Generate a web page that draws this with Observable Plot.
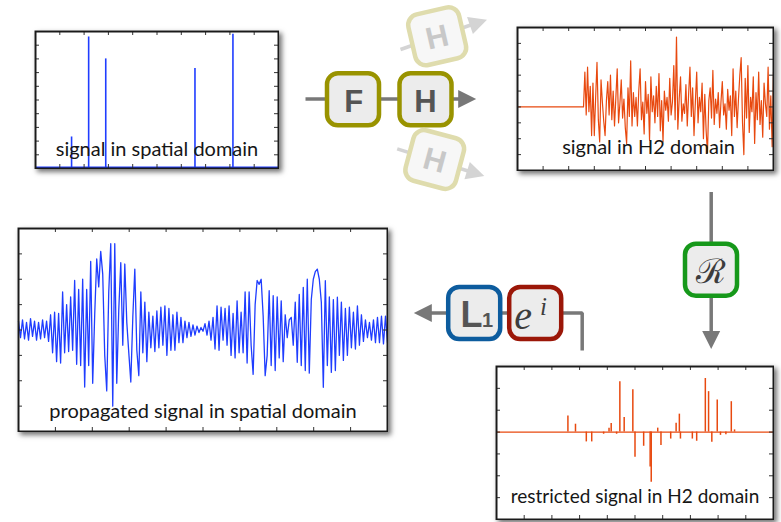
<!DOCTYPE html>
<html><head><meta charset="utf-8">
<script src="https://cdn.jsdelivr.net/npm/d3@7"></script>
<script src="https://cdn.jsdelivr.net/npm/@observablehq/plot@0.6"></script>
<style>
body{margin:0;background:#fff;}
#stage{position:relative;width:781px;height:522px;overflow:hidden;background:#fff;}
.panel{position:absolute;background:#fff;box-shadow:3px 3px 5px rgba(0,0,0,0.55);}
.panel svg,#overlay svg{display:block;}
#overlay{position:absolute;left:0;top:0;}
</style></head><body><div id="stage"></div>
<script>
// ---------- DATA ----------
// panel 1: sparse signal in spatial domain
const spatialSpikeIdx = [19, 28, 37, 84, 104];
const spatialSpikeVal = [0.23, 0.96, 0.80, 0.73, 0.98];
const spatialYTicks = [0.1,0.2,0.3,0.4,0.5,0.6,0.7,0.8,0.9];

// panel 2: signal in H2 domain (flat zero until h2Start, then noisy)
const h2Start = 49;
const h2Noise = [
 0, 2.2, -0.5, 2.5, -0.3, 1.3, -1.8, 1.5, -1.8, 0.6,
 2.8, -0.8, -2.2, 1.7, 0.3, -0.9, -1.8, 0.4, 1.6, -0.5,
 2.0, -0.8, 1.0, -1.2, 0.6, 2.4, -1.0, 0.2, 1.7, -0.7,
 0.5, -1.3, -2.3, 1.2, -0.6, 2.9, -1.2, 0.9, -0.6, 0.6,
 -1.2, 1.0, 2.4, -0.8, 0.3, -1.7, 1.6, -0.4, 0.8, -2.1,
 1.9, -0.3, 0.7, -1.0, 1.3, -0.6, 2.1, -1.5, 0.4, -2.2,
 1.0, -0.2, 0.6, -0.9, 1.8, -0.5, 0.3, 2.6, -0.8, 4.4,
 -1.4, 0.5, 1.9, -0.9, 0.2, -0.4, 1.4, -1.2, 0.8, 2.5,
 -0.6, 1.2, -1.8, 0.3, 2.2, -1.0, 0.6, -0.3, 1.5, -2.0,
 0.8, -1.5, -2.9, 0.4, 1.2, -0.7, 2.3, -1.1, 0.5, -0.4,
 0.9, -1.3, 0.3, 1.6, -0.5, 0.2, -1.4, 1.1, -0.2, 0.7,
 -1.8, 2.4, -0.6, 1.0, -1.3, 0.5, 2.0, 3.1, -1.0, -3.0,
 1.8, -0.7, 2.6, -1.6, 0.6, -0.3, 1.9, -2.3, 0.9, -0.8,
 2.2, -1.1, 0.4, -1.9, 1.5, 0.2, -0.6, 2.5, -1.4, 0.7, -2.5, 2.2
];
const h2YTicks = [-3,-2,-1,0,1,2,3,4];

// panel 3: propagated signal in spatial domain
const propagated = [
 0.35,-0.3,0.4,-0.35,0.3,-0.4,0.45,-0.25,0.35,-0.4,0.3,-0.35,0.4,-0.3,0.35,-0.45,
 0.6,-0.9,0.7,-1.25,0.65,-1.3,1.5,-0.9,1.0,-0.85,1.3,-0.8,1.95,-1.35,1.6,-1.4,
 2.0,-2.25,1.6,-1.4,2.7,-2.1,0.6,2.8,1.7,3.1,2.2,-1.0,-2.4,1.5,3.4,-3.0,3.4,-2.1,
 0.8,2.65,-0.6,2.6,0.3,-0.9,-2.05,0.5,2.4,-0.8,-1.8,1.5,-0.9,1.1,-1.25,0.7,-0.7,
 0.55,-0.85,0.75,-0.7,0.9,-0.6,0.95,-1.0,0.85,-0.8,0.6,-0.8,0.7,-0.5,0.5,-0.5,
 0.35,-0.3,0.3,-0.25,0.2,-0.2,0.15,-0.1,0.1,-0.05,0.25,-0.2,0.35,-0.4,0.5,-0.75,
 0.95,-0.8,0.9,-0.4,0.85,-0.6,0.95,-1.0,0.65,-1.1,1.15,-0.9,0.7,-0.9,1.5,-1.3,1.5,
 -0.6,-1.75,1.0,1.95,1.8,2.0,0.55,-1.8,-1.0,1.55,-1.4,1.35,-1.6,1.3,-1.1,1.15,-1.25,
 0.6,-0.3,0.4,0.5,-0.6,1.1,-1.27,1.4,-1.4,1.68,-1.6,2.0,-1.7,1.2,2.0,2.3,2.4,2.0,1.1,
 -2.26,1.94,-1.4,1.3,-1.67,1.2,-1.6,1.29,-1.0,1.1,-1.2,0.85,-1.0,0.9,-0.7,0.7,-0.75,
 0.95,-0.6,0.6,-0.45,0.4,-0.3,0.3,-0.4,0.4,-0.5,0.5,-0.5,0.55,-0.55,0.55,-0.5
];
const propYTicks = [-3,-2,-1,0,1,2,3];

// panel 4: restricted signal in H2 domain
const restrictedIdx = [66,73,83,88,99,104,106,111,114,118,126,128,136,142,143,149,152,161,166,169,170,181,185,193,196,199,204,207,212,217,220];
const restrictedVal = [0.74,0.36,-0.45,-0.45,-0.1,0.18,0.39,-0.1,2.3,0.67,1.94,-1.15,-0.65,-1.6,-2.3,0.18,-0.62,-0.32,0.4,0.82,-0.32,-0.32,-0.42,2.45,1.85,-0.47,1.47,-0.15,-0.12,1.39,0.1];
const restrictedYTicks = [-3,-2,-1,0,1,2];

const panelLabels = ["signal in spatial domain", "signal in H2 domain", "propagated signal in spatial domain", "restricted signal in H2 domain"];

// diagram layout (pixel space of the 781x522 picture)
const connectorPaths = [
  {id:"forward",  tone:"main",  points:[[305,98.4],[464,98.4]]},
  {id:"restrict", tone:"main",  points:[[710.7,191.5],[710.7,338]]},
  {id:"propagate",tone:"main",  points:[[581.7,350],[581.7,312.4],[424,312.4]]},
  {id:"fadedUp",  tone:"faded", points:[[400,49],[476,22.5]]},
  {id:"fadedDown",tone:"faded", points:[[396.7,148.3],[474,172.5]]}
];
const arrowHeads = [
  {x:475.7, y:98.4,  angle:0,    tone:"main"},
  {x:710.7, y:348.5, angle:90,   tone:"main"},
  {x:413.3, y:312.4, angle:180,  tone:"main"},
  {x:486.5, y:19.2,  angle:-19,  tone:"faded"},
  {x:483.8, y:175.6, angle:17.5, tone:"faded"}
];
const operators = [
  {id:"F",     x:352.5, y:98.8,  angle:0,   tone:"olive"},
  {id:"H",     x:425,   y:98.8,  angle:0,   tone:"olive"},
  {id:"Hup",   x:436.7, y:35.8,  angle:-13, tone:"oliveFaded"},
  {id:"Hdown", x:434.2, y:159,   angle:15,  tone:"oliveFaded"},
  {id:"R",     x:710.5, y:269.2, angle:0,   tone:"green"},
  {id:"L1",    x:473.7, y:312.5, angle:0,   tone:"blue"},
  {id:"exp",   x:534.7, y:312.5, angle:0,   tone:"red"}
];
const sansGlyphs = [
  {t:"F", x:353.3, y:101.8, size:31, angle:0,   faded:false},
  {t:"H", x:425,   y:101.8, size:31, angle:0,   faded:false},
  {t:"H", x:436.7, y:37,    size:31, angle:-13, faded:true},
  {t:"H", x:434.2, y:160.2, size:31, angle:15,  faded:true},
  {t:"L", x:471,   y:315.2, size:36, angle:0,   faded:false},
  {t:"1", x:487,   y:320.3, size:20, angle:0,   faded:false}
];
const scriptGlyphs = [{t:"\u211B", x:710.8, y:271.8, size:34}];
const italicGlyphs = [
  {t:"e", x:522.5, y:315.5, size:40},
  {t:"i", x:543,   y:306,   size:25}
];

// ---------- STYLE ----------
const BLUE = "#1f3dff", ORANGE = "#e8490f";
const toneColor = {main:"#787878", faded:"#d4d4d4"};
const boxStroke = {olive:"#999300", oliveFaded:"#dfdcad", green:"#16981a", blue:"#0d5c9e", red:"#9b1708"};
const boxFill = {olive:"#ececec", oliveFaded:"#f7f7f7", green:"#ececec", blue:"#ececec", red:"#ececec"};

const stage = document.getElementById("stage");

function addPanel({left, top, w, h, xDomain, yDomain, yTicks, marks, label, labelDy, labelDx = 0, labelSize = 20}) {
  const m = 1;
  const xTicks = d3.range(1, 10).map(k => xDomain[0] + k * (xDomain[1] - xDomain[0]) / 10);
  const chart = Plot.plot({
    width: w + 2 * m, height: h + 2 * m, margin: m,
    x: {domain: xDomain, axis: null},
    y: {domain: yDomain, axis: null},
    style: {background: "transparent", fontFamily: "Lato"},
    marks: [
      ...marks,
      Plot.tickX(xTicks, {x: d => d, insetTop: h - 4, stroke: "#333"}),
      Plot.tickX(xTicks, {x: d => d, insetBottom: h - 4, stroke: "#333"}),
      Plot.tickY(yTicks, {y: d => d, insetRight: w - 4, stroke: "#333"}),
      Plot.tickY(yTicks, {y: d => d, insetLeft: w - 4, stroke: "#333"}),
      Plot.text([label], {frameAnchor: "bottom", lineAnchor: "bottom", dy: labelDy, dx: labelDx,
        fontSize: labelSize, fill: "#161616", fontFamily: "Lato"}),
      Plot.frame({stroke: "#1a1a1a", strokeWidth: 2})
    ]
  });
  const div = document.createElement("div");
  div.className = "panel";
  Object.assign(div.style, {left: (left - m) + "px", top: (top - m) + "px", width: (w + 2 * m) + "px", height: (h + 2 * m) + "px"});
  div.appendChild(chart);
  stage.appendChild(div);
}

// panel 1
const spatialRows = spatialSpikeIdx.map((i, k) => ({i, v: spatialSpikeVal[k]}));
addPanel({left: 35, top: 31, w: 243, h: 137, xDomain: [0, 128], yDomain: [0, 1], yTicks: spatialYTicks,
  label: panelLabels[0], labelDy: -13,
  marks: [
    Plot.ruleX(spatialRows, {x: "i", y1: () => 0, y2: "v", stroke: BLUE, strokeWidth: 1.6}),
    Plot.ruleY([0], {stroke: BLUE, strokeWidth: 2, dy: -1})
  ]});

// panel 2
const h2Rows = [{i: 0, v: 0}, ...h2Noise.map((v, k) => ({i: h2Start + k, v}))];
addPanel({left: 517, top: 27, w: 256, h: 143, xDomain: [0, h2Start + h2Noise.length - 1], yDomain: [-4, 5], yTicks: h2YTicks,
  label: panelLabels[1], labelDy: -17, labelDx: 3,
  marks: [Plot.line(h2Rows, {x: "i", y: "v", stroke: ORANGE, strokeWidth: 1.2})]});

// panel 3
const propRows = propagated.map((v, i) => ({i, v}));
addPanel({left: 18, top: 228, w: 369, h: 203, xDomain: [0, propagated.length - 1], yDomain: [-4, 4], yTicks: propYTicks,
  label: panelLabels[2], labelDy: -14,
  marks: [Plot.line(propRows, {x: "i", y: "v", stroke: BLUE, strokeWidth: 1.3})]});

// panel 4
const restrictedRows = restrictedIdx.map((i, k) => ({i, v: restrictedVal[k]}));
addPanel({left: 496, top: 366, w: 277, h: 153, xDomain: [0, 256], yDomain: [-4, 3], yTicks: restrictedYTicks,
  label: panelLabels[3], labelDy: -17, labelSize: 19,
  marks: [
    Plot.ruleY([0], {stroke: ORANGE, strokeWidth: 1.2}),
    Plot.ruleX(restrictedRows, {x: "i", y1: () => 0, y2: "v", stroke: ORANGE, strokeWidth: 1.5})
  ]});

// ---------- DIAGRAM OVERLAY ----------
const arrowSymbol = {draw(ctx, size) {
  const r = Math.sqrt(size / Math.PI);
  ctx.moveTo(0, 0); ctx.lineTo(-2 * r, -r); ctx.lineTo(-2 * r, r); ctx.closePath();
}};
const roundedSquare = {draw(ctx, size) {
  const s = Math.sqrt(size / Math.PI), c = s * 0.42;
  ctx.moveTo(-s + c, -s);
  ctx.arcTo(s, -s, s, s, c);
  ctx.arcTo(s, s, -s, s, c);
  ctx.arcTo(-s, s, -s, -s, c);
  ctx.arcTo(-s, -s, s, -s, c);
  ctx.closePath();
}};
const connRows = connectorPaths.flatMap(c => c.points.map(([x, y]) => ({id: c.id, tone: c.tone, x, y})));

const overlay = Plot.plot({
  width: 781, height: 522, margin: 0,
  x: {domain: [0, 781], range: [0, 781], axis: null},
  y: {domain: [0, 522], range: [0, 522], axis: null},
  color: {type: "identity"},
  style: {background: "transparent", overflow: "visible"},
  marks: [
    Plot.line(connRows, {x: "x", y: "y", z: "id", stroke: d => toneColor[d.tone], strokeWidth: 3.5, strokeLinejoin: "miter", strokeLinecap: "butt"}),
    Plot.dot(arrowHeads, {x: "x", y: "y", rotate: "angle", symbol: arrowSymbol, r: 9, fill: d => toneColor[d.tone], stroke: "none"}),
    Plot.dot(operators, {x: "x", y: "y", rotate: "angle", symbol: roundedSquare, r: 26,
      fill: d => boxFill[d.tone], stroke: d => boxStroke[d.tone], strokeWidth: 4.5}),
    Plot.text(sansGlyphs, {x: "x", y: "y", text: "t", rotate: "angle", fontSize: "size", lineAnchor: "middle",
      fill: d => d.faded ? "#c8c8c8" : "#555555", fontWeight: "bold", fontFamily: "Liberation Sans"}),
    Plot.text(scriptGlyphs, {x: "x", y: "y", text: "t", fontSize: "size", lineAnchor: "middle", fill: "#3d3d3d", fontFamily: "DejaVu Serif"}),
    Plot.text(italicGlyphs, {x: "x", y: "y", text: "t", fontSize: "size", lineAnchor: "middle", fill: "#3d3d3d", fontStyle: "italic", fontFamily: "Liberation Serif"})
  ]
});
const ov = document.createElement("div");
ov.id = "overlay";
ov.appendChild(overlay);
stage.appendChild(ov);
</script></body></html>
